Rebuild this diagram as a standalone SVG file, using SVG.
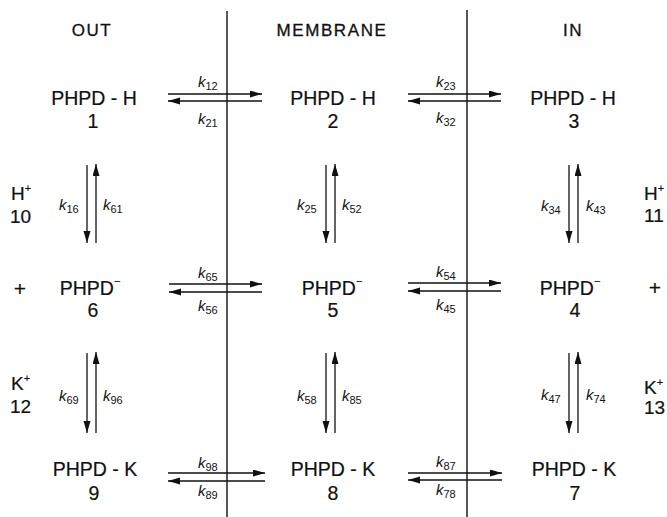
<svg xmlns="http://www.w3.org/2000/svg" width="667" height="517" viewBox="0 0 667 517">
<style>
text{font-family:"Liberation Sans",Arial,sans-serif;fill:#111}
.hdr{font-size:17px;letter-spacing:1.6px;text-anchor:middle;stroke:#111;stroke-width:0.3}
.nm{font-size:19.5px;text-anchor:middle;stroke:#111;stroke-width:0.2}
.sp{font-size:19px;stroke:#111;stroke-width:0.2}
.k{font-size:15px;font-style:italic}
.sub{font-size:11px;font-style:normal}
.sup{font-size:11px}
.mem{stroke:#111;stroke-width:1.4;fill:none}
.ar{stroke:#111;stroke-width:1.3;fill:none;marker-end:url(#ah)}
</style>
<defs>
<marker id="ah" markerUnits="userSpaceOnUse" markerWidth="13" markerHeight="8" refX="12" refY="3.5" orient="auto">
<path d="M0,0 L12,3.5 L0,7 z" fill="#111"/>
</marker>
</defs>
<g id="headers">
<text class="hdr" x="92" y="36">OUT</text>
<text class="hdr" x="332" y="36">MEMBRANE</text>
<text class="hdr" x="573" y="36">IN</text>
</g>
<g id="membranes">
<line class="mem" x1="227" y1="11" x2="227" y2="517"/>
<line class="mem" x1="467" y1="10" x2="467" y2="517"/>
</g>
<g id="n1"><text class="nm" x="94" y="105">PHPD - H</text><text class="nm" x="93" y="128">1</text></g>
<g id="n2"><text class="nm" x="333" y="105">PHPD - H</text><text class="nm" x="333" y="128">2</text></g>
<g id="n3"><text class="nm" x="573" y="105">PHPD - H</text><text class="nm" x="574" y="128">3</text></g>
<g id="n6"><text class="nm" x="90" y="295">PHPD<tspan class="sup" dy="-10">−</tspan></text><text class="nm" x="93" y="317">6</text></g>
<g id="n5"><text class="nm" x="332" y="295">PHPD<tspan class="sup" dy="-10">−</tspan></text><text class="nm" x="333" y="317">5</text></g>
<g id="n4"><text class="nm" x="570" y="295">PHPD<tspan class="sup" dy="-10">−</tspan></text><text class="nm" x="575" y="317">4</text></g>
<g id="n9"><text class="nm" x="95" y="476">PHPD - K</text><text class="nm" x="94" y="500">9</text></g>
<g id="n8"><text class="nm" x="333" y="476">PHPD - K</text><text class="nm" x="333" y="500">8</text></g>
<g id="n7"><text class="nm" x="574" y="476">PHPD - K</text><text class="nm" x="575" y="500">7</text></g>
<g id="n10"><text class="sp" x="11" y="200">H<tspan class="sup" dy="-8">+</tspan></text><text class="sp" x="10" y="223">10</text></g>
<g id="n11"><text class="sp" x="644" y="200">H<tspan class="sup" dy="-8">+</tspan></text><text class="sp" x="644" y="222">11</text></g>
<g id="n12"><text class="sp" x="11" y="390">K<tspan class="sup" dy="-8">+</tspan></text><text class="sp" x="10" y="413">12</text></g>
<g id="n13"><text class="sp" x="644" y="394">K<tspan class="sup" dy="-8">+</tspan></text><text class="sp" x="644" y="414">13</text></g>
<g id="plus">
<text class="sp" x="20" y="296" text-anchor="middle" style="font-size:21px">+</text>
<text class="sp" x="655" y="295" text-anchor="middle" style="font-size:21px">+</text>
</g>
<g id="connectors">
<line class="ar" x1="168" y1="94" x2="262" y2="94"/>
<line class="ar" x1="262" y1="101" x2="168" y2="101"/>
<line class="ar" x1="408" y1="94" x2="501" y2="94"/>
<line class="ar" x1="501" y1="101" x2="408" y2="101"/>
<line class="ar" x1="169" y1="284" x2="262" y2="284"/>
<line class="ar" x1="262" y1="292" x2="169" y2="292"/>
<line class="ar" x1="408" y1="283" x2="501" y2="283"/>
<line class="ar" x1="501" y1="291" x2="408" y2="291"/>
<line class="ar" x1="168" y1="473" x2="265" y2="473"/>
<line class="ar" x1="265" y1="481" x2="168" y2="481"/>
<line class="ar" x1="408" y1="473" x2="502" y2="473"/>
<line class="ar" x1="502" y1="480" x2="408" y2="480"/>
<line class="ar" x1="87" y1="165" x2="87" y2="243"/>
<line class="ar" x1="96" y1="243" x2="96" y2="164"/>
<line class="ar" x1="326" y1="165" x2="326" y2="243"/>
<line class="ar" x1="335" y1="243" x2="335" y2="164"/>
<line class="ar" x1="569" y1="165" x2="569" y2="243"/>
<line class="ar" x1="578" y1="243" x2="578" y2="164"/>
<line class="ar" x1="87" y1="353" x2="87" y2="433"/>
<line class="ar" x1="96" y1="433" x2="96" y2="352"/>
<line class="ar" x1="326" y1="353" x2="326" y2="433"/>
<line class="ar" x1="335" y1="433" x2="335" y2="352"/>
<line class="ar" x1="569" y1="353" x2="569" y2="433"/>
<line class="ar" x1="578" y1="433" x2="578" y2="352"/>
</g>
<g id="rate-labels">
<text class="k" x="198" y="87">k<tspan class="sub" dy="3">12</tspan></text>
<text class="k" x="198" y="124">k<tspan class="sub" dy="3">21</tspan></text>
<text class="k" x="436" y="87">k<tspan class="sub" dy="3">23</tspan></text>
<text class="k" x="436" y="123">k<tspan class="sub" dy="3">32</tspan></text>
<text class="k" x="198" y="278">k<tspan class="sub" dy="3">65</tspan></text>
<text class="k" x="198" y="311">k<tspan class="sub" dy="3">56</tspan></text>
<text class="k" x="436" y="277">k<tspan class="sub" dy="3">54</tspan></text>
<text class="k" x="436" y="310">k<tspan class="sub" dy="3">45</tspan></text>
<text class="k" x="198" y="468">k<tspan class="sub" dy="3">98</tspan></text>
<text class="k" x="198" y="496">k<tspan class="sub" dy="3">89</tspan></text>
<text class="k" x="436" y="467">k<tspan class="sub" dy="3">87</tspan></text>
<text class="k" x="436" y="495">k<tspan class="sub" dy="3">78</tspan></text>
<text class="k" x="59" y="210">k<tspan class="sub" dy="3">16</tspan></text>
<text class="k" x="103" y="210">k<tspan class="sub" dy="3">61</tspan></text>
<text class="k" x="297" y="210">k<tspan class="sub" dy="3">25</tspan></text>
<text class="k" x="342" y="210">k<tspan class="sub" dy="3">52</tspan></text>
<text class="k" x="541" y="211">k<tspan class="sub" dy="3">34</tspan></text>
<text class="k" x="586" y="211">k<tspan class="sub" dy="3">43</tspan></text>
<text class="k" x="59" y="401">k<tspan class="sub" dy="3">69</tspan></text>
<text class="k" x="103" y="401">k<tspan class="sub" dy="3">96</tspan></text>
<text class="k" x="297" y="401">k<tspan class="sub" dy="3">58</tspan></text>
<text class="k" x="342" y="401">k<tspan class="sub" dy="3">85</tspan></text>
<text class="k" x="541" y="400">k<tspan class="sub" dy="3">47</tspan></text>
<text class="k" x="586" y="400">k<tspan class="sub" dy="3">74</tspan></text>
</g>
</svg>
